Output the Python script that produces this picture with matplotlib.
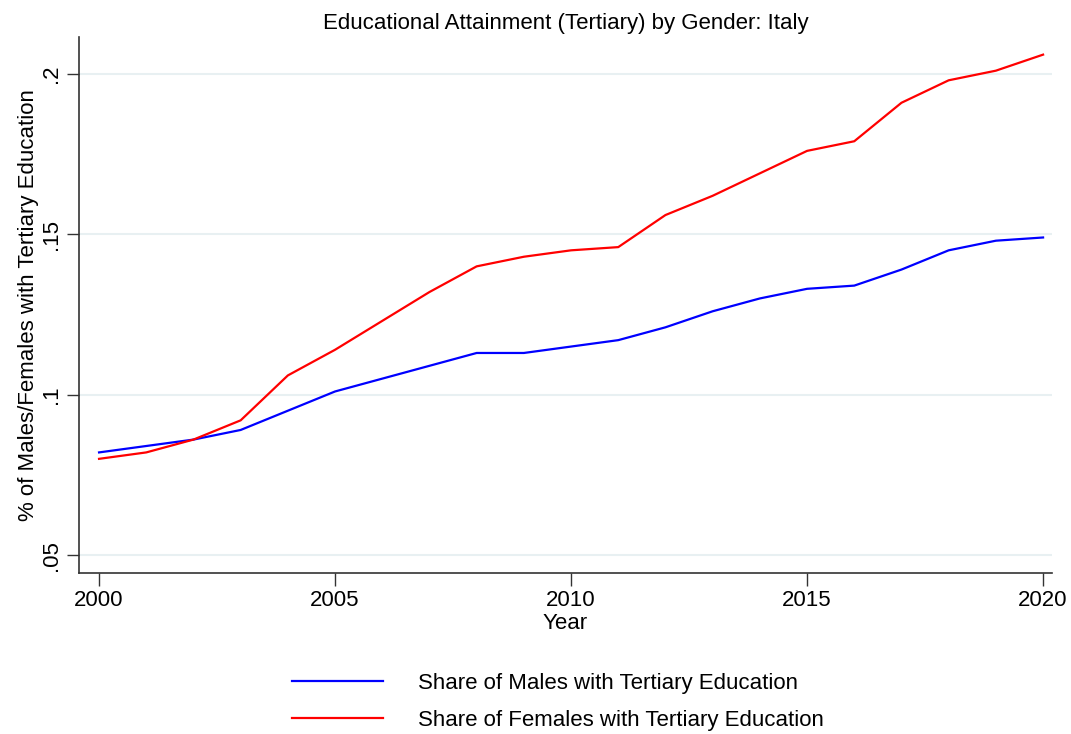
import matplotlib.pyplot as plt
import matplotlib.ticker as mticker

plt.rcParams["font.family"] = ["Liberation Sans", "DejaVu Sans"]

years = list(range(2000, 2021))
males = [0.082, 0.084, 0.086, 0.089, 0.095, 0.101, 0.105, 0.109, 0.113, 0.113,
         0.115, 0.117, 0.121, 0.126, 0.130, 0.133, 0.134, 0.139, 0.145, 0.148, 0.149]
females = [0.080, 0.082, 0.086, 0.092, 0.106, 0.114, 0.123, 0.132, 0.140, 0.143,
           0.145, 0.146, 0.156, 0.162, 0.169, 0.176, 0.179, 0.191, 0.198, 0.201, 0.206]
y_ticks = [0.05, 0.10, 0.15, 0.20]
y_tick_labels = [".05", ".1", ".15", ".2"]
x_ticks = [2000, 2005, 2010, 2015, 2020]

fig = plt.figure(figsize=(10.71, 7.34), dpi=100)
ax = fig.add_axes([0.0738, 0.2193, 0.9085, 0.7303])

ax.plot(years, males, color="#0000ff", lw=1.6, label="Share of Males with Tertiary Education")
ax.plot(years, females, color="#ff0000", lw=1.6, label="Share of Females with Tertiary Education")

ax.set_xlim(1999.576, 2020.19)
ax.set_ylim(0.0444, 0.2115)
ax.set_xticks(x_ticks)
ax.set_yticks(y_ticks)
ax.set_yticklabels(y_tick_labels, rotation=90, va="center")
ax.grid(axis="y", color="#e8f0f2", lw=1.5)
ax.set_axisbelow(True)

for side in ("top", "right"):
    ax.spines[side].set_visible(False)
for side in ("left", "bottom"):
    ax.spines[side].set_linewidth(1.2)
    ax.spines[side].set_color("#333333")
ax.tick_params(axis="both", length=9, width=1.0, color="#333333", labelsize=16, pad=3)

ax.set_title("Educational Attainment (Tertiary) by Gender: Italy", fontsize=16, pad=6)
ax.set_xlabel("Year", fontsize=16, labelpad=2)
ax.set_ylabel("% of Males/Females with Tertiary Education", fontsize=16, labelpad=2)

# legend sits under the plot, no frame, like Stata's default
fig.legend(loc="upper center", bbox_to_anchor=(0.521, 0.111), frameon=False,
           fontsize=16, handlelength=4.1, handletextpad=1.6, labelspacing=0.75,
           alignment="left")

fig.savefig("out.png", dpi=100)
